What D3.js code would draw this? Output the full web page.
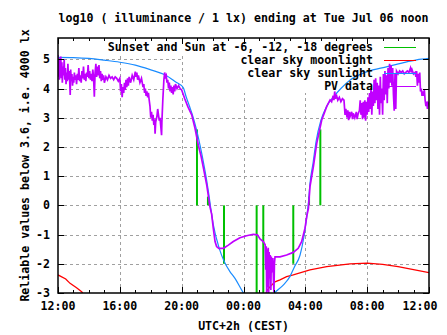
<!DOCTYPE html>
<html><head><meta charset="utf-8">
<script src="https://cdn.jsdelivr.net/npm/d3@7"></script>
<style>
body{margin:0;background:#fff;}
svg text{font-family:"DejaVu Sans Mono","Liberation Mono",monospace;font-weight:bold;font-size:11.6px;fill:#000;}
</style></head><body>
<svg id="c" width="447" height="335"></svg>
<script>
// ---------- data ----------
const titleText = "log10 ( illuminance / 1 lx) ending at Tue Jul 06 noon";
const xLabelText = "UTC+2h (CEST)";
const yLabelText = "Reliable values below 3.6, i.e. 4000 lx";
const xTickHours = [0, 4, 8, 12, 16, 20, 24];
const xTickLabels = ["12:00", "16:00", "20:00", "00:00", "04:00", "08:00", "12:00"];
const yTicks = [-3, -2, -1, 0, 1, 2, 3, 4, 5];
const legendLabels = ["Sunset and Sun at -6, -12, -18 degrees", "clear sky moonlight", "clear sky sunlight", "PV data"];

// hours after 12:00 noon
const twilightHours  = [8.99, 9.70, 10.74, 12.85, 13.28, 15.22, 16.24, 16.97];
const twilightLow    = [0, 0, -2, -3, -3, -2, 0, 0];
const twilightHigh   = [2.6, 0.3, 0, 0, 0, 0, 0.3, 2.6];

const moonEveningHours  = [0, 0.5, 0.78, 1.2, 1.53, 1.6];
const moonEveningValues = [-2.38, -2.52, -2.67, -2.82, -2.96, -3.0];
const moonMorningHours  = [13.46, 13.54, 13.71, 14.04, 14.36, 14.79, 15.22, 16.3, 17.38, 18.89, 20, 21, 22, 23, 24];
const moonMorningValues = [-3.0, -2.9, -2.79, -2.62, -2.55, -2.44, -2.38, -2.21, -2.1, -2.0, -1.98, -2.02, -2.1, -2.2, -2.3];

const sunHours  = [0,1,2,3,4,5,6,6.92,7.57,8.1,8.3,8.5,8.73,8.98,9.19,9.4,9.62,9.75,9.87,10.05,10.43,10.76,11.1,11.45,11.95,12.5,13.0,13.5,14.0,14.57,15.0,15.3,15.66,15.9,16.1,16.2,16.3,16.5,16.7,17.0,17.3,17.5,17.8,18.3,18.9,20,21.3,22.3,23.2,24];
const sunValues = [5.07,5.06,5.03,4.97,4.9,4.8,4.64,4.47,4.24,4.03,3.7,3.4,3.04,2.55,2.05,1.5,0.85,0.4,-0.05,-0.67,-1.47,-1.93,-2.25,-2.5,-2.96,-3.35,-3.5,-3.35,-3.0,-2.73,-2.44,-2.1,-1.7,-1.1,-0.35,0.1,0.75,1.45,2.2,2.9,3.3,3.5,3.7,4.0,4.29,4.58,4.75,4.88,4.98,5.03];

const pvHours = [0,0.03,0.06,0.09,0.12,0.15,0.18,0.21,0.25,0.28,0.32,0.36,0.4,0.44,0.48,0.52,0.56,0.6,0.64,0.68,0.72,0.76,0.79,0.82,0.86,0.9,0.94,0.98,1.02,1.06,1.1,1.15,1.2,1.25,1.3,1.35,1.4,1.45,1.5,1.55,1.6,1.65,1.7,1.75,1.8,1.85,1.9,1.95,2.0,2.05,2.1,2.15,2.2,2.25,2.3,2.35,2.4,2.45,2.5,2.55,2.6,2.65,2.7,2.75,2.8,2.85,2.9,2.95,3.0,3.1,3.2,3.3,3.4,3.5,3.6,3.7,3.8,3.9,4.0,4.05,4.1,4.15,4.2,4.25,4.3,4.35,4.4,4.45,4.5,4.55,4.6,4.7,4.8,4.9,5.0,5.05,5.1,5.15,5.2,5.3,5.4,5.5,5.55,5.6,5.65,5.7,5.75,5.8,5.85,5.9,5.95,6.0,6.05,6.1,6.15,6.2,6.25,6.28,6.32,6.4,6.45,6.5,6.55,6.6,6.65,6.7,6.72,6.78,6.85,6.9,6.95,7.0,7.05,7.1,7.15,7.2,7.25,7.3,7.35,7.4,7.45,7.5,7.55,7.6,7.7,7.8,7.9,8.0,8.2,8.4,8.65,8.86,9.08,9.25,9.4,9.62,9.72,9.83,9.94,10.05,10.16,10.26,10.4,10.7,11.02,11.34,11.77,12.2,12.63,12.9,13.07,13.28,13.35,13.4,13.44,13.47,13.5,13.53,13.56,13.6,13.63,13.66,13.7,13.73,13.77,13.8,13.85,13.9,13.94,13.97,14.0,14.04,14.36,14.79,15.22,15.54,15.76,15.98,16.1,16.2,16.3,16.52,16.74,17.06,17.38,17.6,17.7,17.8,17.85,17.9,17.95,18.0,18.1,18.2,18.3,18.4,18.5,18.57,18.62,18.7,18.75,18.8,18.85,18.9,19.0,19.05,19.1,19.2,19.3,19.35,19.4,19.5,19.55,19.6,19.65,19.7,19.75,19.8,19.85,19.9,19.95,20.0,20.05,20.1,20.15,20.2,20.25,20.3,20.35,20.4,20.45,20.5,20.55,20.6,20.65,20.7,20.75,20.8,20.85,20.9,20.95,21.0,21.05,21.1,21.15,21.2,21.25,21.3,21.35,21.4,21.45,21.5,21.55,21.6,21.65,21.7,21.75,21.8,21.85,21.9,22.0,22.1,22.2,22.3,22.4,22.5,22.6,22.7,22.8,22.85,22.9,23.0,23.1,23.15,23.2,23.25,23.3,23.35,23.4,23.45,23.5,23.55,23.6,23.65,23.7,23.75,23.8,23.85,23.9,23.95,24.0];
const pvValues = [5.15,4.4,5.05,4.3,4.95,4.6,5.1,4.35,4.9,4.2,4.75,4.45,5.0,4.3,4.7,4.15,4.55,4.25,4.85,4.3,4.6,4.2,3.78,4.65,4.25,4.5,4.1,4.4,4.2,4.55,4.3,4.45,4.15,4.5,4.3,4.7,4.25,4.45,4.2,4.6,4.35,4.75,4.3,4.5,4.25,4.55,4.4,4.8,4.35,4.6,4.3,4.5,4.25,4.65,4.4,3.72,4.55,4.85,4.4,4.75,4.45,4.8,4.35,4.6,4.25,4.5,4.3,4.45,4.2,4.4,4.3,4.45,4.35,4.4,4.3,4.4,4.35,4.25,4.35,3.9,4.15,3.7,4.05,3.85,4.2,3.95,4.3,4.05,4.35,4.1,4.4,4.2,4.45,4.3,4.58,4.4,4.55,4.3,4.45,4.2,4.35,4.05,4.15,3.85,4.0,3.75,3.9,3.7,3.85,3.6,3.4,3.0,3.2,2.9,3.1,2.75,2.95,2.45,2.85,3.05,3.3,3.1,2.9,3.0,2.7,2.4,2.85,3.6,4.3,4.55,4.4,4.45,4.2,4.3,4.0,4.2,3.9,4.1,3.85,4.05,3.8,4.1,3.9,4.15,4.0,4.1,4.0,3.95,3.65,3.38,3.1,2.65,2.05,1.7,1.3,0.7,0.35,-0.05,-0.3,-0.8,-1.24,-1.41,-1.47,-1.47,-1.36,-1.24,-1.11,-1.04,-0.99,-1.01,-1.15,-1.24,-1.3,-1.35,-2.2,-1.4,-3.0,-1.5,-2.8,-1.45,-3.0,-1.6,-2.5,-1.7,-2.9,-1.75,-2.3,-1.8,-2.6,-2.97,-2.0,-1.76,-1.76,-1.7,-1.61,-1.47,-1.24,-0.78,-0.35,-0.1,0.64,1.33,2.13,2.92,3.38,3.61,3.55,3.75,3.6,3.9,3.65,3.8,3.6,3.7,3.55,3.65,3.6,3.1,3.3,3.0,3.25,2.92,3.2,3.05,3.2,2.95,3.15,3.0,3.2,2.95,3.1,3.25,3.6,3.1,3.5,2.95,3.55,3.0,3.6,2.9,3.55,3.1,3.7,3.2,3.85,3.3,4.0,3.1,3.9,3.4,4.3,3.5,4.35,3.6,4.2,3.3,4.1,3.1,4.4,3.5,4.0,3.1,4.5,3.6,4.6,3.8,4.45,3.5,4.7,4.0,4.85,4.2,4.8,4.1,4.7,3.8,3.24,4.5,3.3,4.6,4.5,4.6,4.55,4.6,4.5,4.55,4.6,4.55,4.7,4.55,4.65,4.5,4.55,4.4,4.6,4.1,4.5,4.2,4.55,3.9,4.0,3.75,3.9,3.75,3.95,3.6,3.4,3.55,3.3,3.5,3.45];

// ---------- drawing ----------
const W = 447, H = 335;
const L = 58, R = 429, T = 38, B = 293;
const svg = d3.select("#c");
const x = d3.scaleLinear().domain([0, 24]).range([L, R]);
const y = d3.scaleLinear().domain([-3, 5.73]).range([B, T]);

const col = {pv: "#c000ff", sun: "#1a8cff", moon: "#ff0000", tw: "#00c000", grid: "#a0a0a0"};

svg.append("rect").attr("width", W).attr("height", H).attr("fill", "#fff");

svg.append("defs").append("clipPath").attr("id", "clip")
  .append("rect").attr("x", L).attr("y", T).attr("width", R - L).attr("height", B - T);

// grid
const grid = svg.append("g").attr("stroke", col.grid).attr("stroke-width", 1).attr("stroke-dasharray", "3,3").attr("shape-rendering", "crispEdges");
xTickHours.filter(h => h > 0 && h < 24).forEach(h => {
  grid.append("line").attr("x1", Math.round(x(h)) + 0.5).attr("x2", Math.round(x(h)) + 0.5).attr("y1", T).attr("y2", B);
});
yTicks.filter(v => v > -3).forEach(v => {
  grid.append("line").attr("x1", L).attr("x2", R).attr("y1", Math.round(y(v)) + 0.5).attr("y2", Math.round(y(v)) + 0.5);
});

// key background (hides grid behind the key)
svg.append("rect").attr("x", 100).attr("y", T + 1).attr("width", 322).attr("height", 17).attr("fill", "#fff");
svg.append("rect").attr("x", 183).attr("y", T + 1).attr("width", 239).attr("height", 54).attr("fill", "#fff");

const plot = svg.append("g").attr("clip-path", "url(#clip)");

// twilight markers
twilightHours.forEach((h, i) => {
  plot.append("line").attr("x1", x(h)).attr("x2", x(h))
    .attr("y1", y(twilightLow[i])).attr("y2", y(twilightHigh[i]))
    .attr("stroke", col.tw).attr("stroke-width", 2);
});

const line = d3.line().x(d => x(d[0])).y(d => y(d[1]));
const zip = (a, b) => a.map((v, i) => [v, b[i]]);

plot.append("path").datum(zip(moonEveningHours, moonEveningValues)).attr("d", line)
  .attr("fill", "none").attr("stroke", col.moon).attr("stroke-width", 1.3);
plot.append("path").datum(zip(moonMorningHours, moonMorningValues)).attr("d", line)
  .attr("fill", "none").attr("stroke", col.moon).attr("stroke-width", 1.3);
plot.append("path").datum(zip(sunHours, sunValues)).attr("d", line.curve(d3.curveMonotoneX))
  .attr("fill", "none").attr("stroke", col.sun).attr("stroke-width", 1.2);
line.curve(d3.curveLinear);
plot.append("path").datum(zip(pvHours, pvValues)).attr("d", line)
  .attr("fill", "none").attr("stroke", col.pv).attr("stroke-width", 1.7).attr("stroke-linejoin", "miter");

// key
const keyColors = [col.tw, col.moon, col.sun, col.pv];
legendLabels.forEach((t, i) => {
  const yy = 47 + i * 13;
  svg.append("text").attr("x", 373).attr("y", yy).attr("dy", "0.35em").attr("text-anchor", "end").text(t);
  svg.append("line").attr("x1", 384).attr("x2", 416).attr("y1", yy + 0.5).attr("y2", yy + 0.5)
    .attr("stroke", keyColors[i]).attr("stroke-width", 1).attr("shape-rendering", "crispEdges");
});

// border + ticks
const ax = svg.append("g").attr("stroke", "#000").attr("shape-rendering", "crispEdges");
for (let h = 0; h <= 24; h++) {
  const len = h % 4 === 0 ? 6 : 3;
  const xx = Math.round(x(h)) + 0.5;
  ax.append("line").attr("x1", xx).attr("x2", xx).attr("y1", B).attr("y2", B - len);
  ax.append("line").attr("x1", xx).attr("x2", xx).attr("y1", T).attr("y2", T + len);
}
yTicks.forEach(v => {
  const yy = Math.round(y(v)) + 0.5;
  ax.append("line").attr("x1", L).attr("x2", L + 6).attr("y1", yy).attr("y2", yy);
  ax.append("line").attr("x1", R).attr("x2", R - 6).attr("y1", yy).attr("y2", yy);
});
svg.append("rect").attr("x", L).attr("y", T).attr("width", R - L).attr("height", B - T)
  .attr("fill", "none").attr("stroke", "#000").attr("stroke-width", 1.5);

// tick labels (last one is pulled inside the canvas, as in the original)
xTickHours.forEach((h, i) => {
  const last = i === xTickHours.length - 1;
  svg.append("text").attr("x", last ? x(h) - 9 : x(h)).attr("y", 306).attr("dy", "0.35em").attr("text-anchor", "middle").text(xTickLabels[i]);
});
yTicks.forEach(v => {
  svg.append("text").attr("x", 50).attr("y", y(v)).attr("dy", "0.35em").attr("text-anchor", "end").text(String(v));
});

// titles
svg.append("text").attr("x", (L + R) / 2).attr("y", 18).attr("dy", "0.35em").attr("text-anchor", "middle").text(titleText);
svg.append("text").attr("x", (L + R) / 2).attr("y", 326).attr("dy", "0.35em").attr("text-anchor", "middle").text(xLabelText);
svg.append("text").attr("transform", `translate(25,${(T + B) / 2}) rotate(-90)`).attr("dy", "0.35em").attr("text-anchor", "middle").text(yLabelText);
</script>
</body></html>
